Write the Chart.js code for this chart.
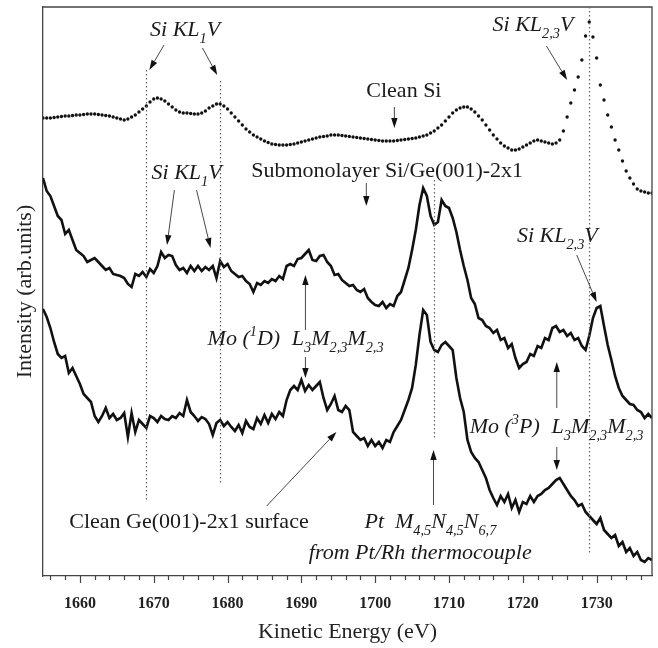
<!DOCTYPE html>
<html>
<head>
<meta charset="utf-8">
<script src="https://cdn.jsdelivr.net/npm/chart.js@4.4.1/dist/chart.umd.min.js"></script>
<style>
  html, body { margin: 0; padding: 0; background: #fff; }
  #wrap { width: 658px; height: 648px; }
</style>
</head>
<body>
<div id="wrap"><canvas id="auger" width="658" height="648"></canvas></div>
<script>
// Kinetic energy grid (eV), one row per 5 eV
var energy = [
  1655, 1655.5, 1656, 1656.5, 1657, 1657.5, 1658, 1658.5, 1659, 1659.5,
  1660, 1660.5, 1661, 1661.5, 1662, 1662.5, 1663, 1663.5, 1664, 1664.5,
  1665, 1665.5, 1666, 1666.5, 1667, 1667.5, 1668, 1668.5, 1669, 1669.5,
  1670, 1670.5, 1671, 1671.5, 1672, 1672.5, 1673, 1673.5, 1674, 1674.5,
  1675, 1675.5, 1676, 1676.5, 1677, 1677.5, 1678, 1678.5, 1679, 1679.5,
  1680, 1680.5, 1681, 1681.5, 1682, 1682.5, 1683, 1683.5, 1684, 1684.5,
  1685, 1685.5, 1686, 1686.5, 1687, 1687.5, 1688, 1688.5, 1689, 1689.5,
  1690, 1690.5, 1691, 1691.5, 1692, 1692.5, 1693, 1693.5, 1694, 1694.5,
  1695, 1695.5, 1696, 1696.5, 1697, 1697.5, 1698, 1698.5, 1699, 1699.5,
  1700, 1700.5, 1701, 1701.5, 1702, 1702.5, 1703, 1703.5, 1704, 1704.5,
  1705, 1705.5, 1706, 1706.5, 1707, 1707.5, 1708, 1708.5, 1709, 1709.5,
  1710, 1710.5, 1711, 1711.5, 1712, 1712.5, 1713, 1713.5, 1714, 1714.5,
  1715, 1715.5, 1716, 1716.5, 1717, 1717.5, 1718, 1718.5, 1719, 1719.5,
  1720, 1720.5, 1721, 1721.5, 1722, 1722.5, 1723, 1723.5, 1724, 1724.5,
  1725, 1725.5, 1726, 1726.5, 1727, 1727.5, 1728, 1728.5, 1729, 1729.5,
  1730, 1730.5, 1731, 1731.5, 1732, 1732.5, 1733, 1733.5, 1734, 1734.5,
  1735, 1735.5, 1736, 1736.5, 1737, 1737.5
];

// Clean Si (dotted spectrum)
var cleanSi = [
  458, 458, 458, 458.5, 459, 459.5, 460, 460, 460.5, 461,
  461, 461.5, 462, 462, 462, 461.5, 461, 460.5, 460, 459,
  458, 457, 456, 457, 459, 461, 464, 467, 470, 474,
  477, 478, 477, 475, 472, 469, 466, 464, 463, 463,
  462.5, 462, 462, 463, 465, 468, 470, 472, 472, 470,
  467, 463, 459, 455, 451, 447, 444, 441, 439, 437,
  435, 433.5, 432, 431.5, 431, 431, 431, 431.5, 432, 433,
  434, 435, 436, 437, 438, 439, 439.5, 440, 441, 441,
  441, 440.5, 440, 439.5, 439, 438.5, 438, 437.5, 437, 436.5,
  436, 435.5, 435, 435, 435, 435, 435.5, 436, 436.5, 437,
  437.5, 438, 439, 440, 441, 443, 445, 448, 451, 455,
  459, 463, 466, 468, 469, 469, 467, 464, 460, 456,
  451, 446, 441, 437, 433, 430, 428, 426, 426, 427,
  429, 431, 433, 435, 436, 435, 434, 433, 432, 433,
  436, 445, 459, 473, 486, 499, 516, 540, 554, 539,
  518, 491, 476, 461, 449, 436, 426, 415, 405, 398,
  392, 387, 385, 384, 383, 383
];

// Submonolayer Si/Ge(001)-2x1
var subSiGe = [
  398, 385, 380, 370, 360, 356, 342, 346, 336, 326,
  323, 320, 314, 316, 318, 314, 310, 306, 308, 302,
  301, 300, 298, 292, 289, 302, 300, 304, 299, 307,
  303, 310, 324, 318, 321, 320, 311, 306, 308, 303,
  310, 305, 310, 305, 309, 306, 310, 298, 315, 309,
  312, 305, 302, 299, 300, 295, 292, 284, 293, 291,
  295, 293, 297, 295, 300, 297, 310, 312, 310, 317,
  318, 322, 326, 316, 315, 320, 321, 314, 310, 301,
  302, 296, 293, 290, 291, 286, 284, 287, 278, 274,
  271, 270, 274, 268, 272, 270, 280, 284, 296, 308,
  326, 346, 371, 388, 380, 360, 351, 354, 376, 370,
  368, 358, 344, 326, 310, 296, 278, 272, 258, 256,
  250, 248, 243, 246, 236, 238, 228, 232, 218, 208,
  212, 214, 222, 220, 230, 228, 238, 236, 248, 250,
  244, 246, 240, 243, 236, 238, 230, 226, 240, 258,
  268, 270, 250, 231, 216, 200, 188, 180, 176, 172,
  171, 166, 164, 158, 162, 158
];

// Clean Ge(001)-2x1 surface
var cleanGe = [
  267, 259, 248, 234, 222, 218, 220, 203, 208, 200,
  192, 182, 178, 174, 160, 154, 160, 168, 158, 162,
  156, 158, 163, 139, 163, 144, 156, 152, 148, 160,
  158, 154, 160, 157, 156, 160, 158, 163, 160, 176,
  164, 160, 155, 159, 157, 152, 141, 153, 156, 150,
  154, 149, 145, 151, 143, 155, 149, 147, 158, 152,
  161, 153, 162, 157, 164, 160, 176, 186, 190, 186,
  196, 185, 191, 186, 190, 194, 178, 166, 172, 180,
  166, 164, 170, 166, 144, 140, 136, 138, 130, 136,
  130, 134, 128, 136, 134, 144, 150, 156, 166, 176,
  188, 211, 241, 266, 261, 234, 226, 224, 231, 234,
  230, 226, 198, 178, 164, 136, 124, 118, 114, 106,
  98, 86, 78, 71, 80, 74, 82, 68, 76, 64,
  74, 72, 80, 74, 80, 82, 86, 88, 92, 96,
  98, 92, 86, 80, 76, 70, 72, 64, 60, 56,
  52, 58, 46, 42, 38, 41, 30, 34, 24, 28,
  20, 24, 16, 14, 18, 16
];

var xMin = 1655, xMax = 1737.5;
var yMin = 0, yMax = 569;
var tickLabels = [1660, 1670, 1680, 1690, 1700, 1710, 1720, 1730];

// reference lines [energy, from, to]
var markerLines = [
  [1669, 506, 75],
  [1679, 495, 91],
  [1708, 396, 136],
  [1729, 569, 23]
];

// labels: segments [text, 0 normal / -1 sub / 1 sup], x, y, italic, align
var labels = [
  { segs: [['Si KL', 0], ['1', -1], ['V', 0]], x: 1669.5, y: 540, it: true },
  { segs: [['Si KL', 0], ['2,3', -1], ['V', 0]], x: 1715.9, y: 545, it: true },
  { segs: [['Clean Si', 0]], x: 1698.8, y: 479, it: false },
  { segs: [['Si KL', 0], ['1', -1], ['V', 0]], x: 1669.7, y: 397, it: true },
  { segs: [['Submonolayer Si/Ge(001)-2x1', 0]], x: 1683.2, y: 399, it: false },
  { segs: [['Mo (', 0], ['1', 1], ['D)', 0]], x: 1677.3, y: 231, it: true },
  { segs: [['L', 0], ['3', -1], ['M', 0], ['2,3', -1], ['M', 0], ['2,3', -1]], x: 1688.7, y: 231, it: true },
  { segs: [['Mo (', 0], ['3', 1], ['P)', 0]], x: 1712.8, y: 143, it: true },
  { segs: [['L', 0], ['3', -1], ['M', 0], ['2,3', -1], ['M', 0], ['2,3', -1]], x: 1723.9, y: 143, it: true },
  { segs: [['Si KL', 0], ['2,3', -1], ['V', 0]], x: 1719.2, y: 334, it: true },
  { segs: [['Clean Ge(001)-2x1 surface', 0]], x: 1658.55, y: 48, it: false },
  { segs: [['Pt  M', 0], ['4,5', -1], ['N', 0], ['4,5', -1], ['N', 0], ['6,7', -1]], x: 1698.55, y: 48, it: true },
  { segs: [['from Pt/Rh thermocouple', 0]], x: 1721.2, y: 17, it: true, align: 'right' }
];

// arrows [x0, y0, x1, y1] head at the second point
var arrows = [
  [1671.4, 531, 1669.4, 506],
  [1676.6, 528, 1678.6, 501],
  [1723.2, 530, 1726.0, 496],
  [1702.6, 469, 1702.6, 448],
  [1672.8, 386, 1671.8, 331],
  [1675.8, 386, 1677.7, 328],
  [1698.8, 393, 1698.8, 370],
  [1690.55, 246, 1690.55, 301],
  [1690.55, 219, 1690.55, 198],
  [1724.6, 168, 1724.6, 214],
  [1724.6, 129, 1724.6, 106],
  [1727.3, 321, 1730.0, 274],
  [1685.3, 70, 1694.75, 144],
  [1707.9, 71, 1707.9, 126]
];

var SERIF = '"Liberation Serif", "Times New Roman", serif';

function pts(vals) {
  return energy.map(function(e, i) { return { x: e, y: vals[i] }; });
}

function drawRich(ctx, item, px, py) {
  var size = 22;
  var style = item.it ? 'italic ' : '';
  var total = 0;
  item.segs.forEach(function(s) {
    ctx.font = style + (s[1] ? size * 0.65 : size) + 'px ' + SERIF;
    total += ctx.measureText(s[0]).width;
  });
  var x = item.align === 'right' ? px - total : px;
  item.segs.forEach(function(s) {
    ctx.font = style + (s[1] ? size * 0.65 : size) + 'px ' + SERIF;
    var dy = s[1] === -1 ? size * 0.3 : s[1] === 1 ? -size * 0.42 : 0;
    ctx.fillText(s[0], x, py + dy);
    x += ctx.measureText(s[0]).width;
  });
}

var decor = {
  id: 'decor',
  afterDraw: function(chart) {
    var ctx = chart.ctx, xs = chart.scales.x, ys = chart.scales.y, a = chart.chartArea;
    ctx.save();
    // top and right frame
    ctx.strokeStyle = '#444';
    ctx.lineWidth = 1.3;
    ctx.beginPath();
    ctx.moveTo(a.left, a.top); ctx.lineTo(a.right, a.top); ctx.lineTo(a.right, a.bottom);
    ctx.stroke();
    // tick marks every 2 eV
    ctx.lineWidth = 1.2;
    for (var v = 1656; v <= xMax; v += 2) {
      var tx = Math.round(xs.getPixelForValue(v)) + 0.5;
      ctx.beginPath();
      ctx.moveTo(tx, a.bottom);
      ctx.lineTo(tx, a.bottom + (v % 10 === 0 ? 7 : 4));
      ctx.stroke();
    }
    // dotted reference lines
    ctx.strokeStyle = '#666';
    ctx.lineWidth = 1.2;
    ctx.setLineDash([1.5, 2.5]);
    markerLines.forEach(function(m) {
      var lx = Math.round(xs.getPixelForValue(m[0])) + 0.5;
      ctx.beginPath();
      ctx.moveTo(lx, ys.getPixelForValue(m[1]));
      ctx.lineTo(lx, ys.getPixelForValue(m[2]));
      ctx.stroke();
    });
    ctx.setLineDash([]);
    // arrows
    ctx.strokeStyle = '#333';
    ctx.fillStyle = '#111';
    ctx.lineWidth = 0.9;
    arrows.forEach(function(r) {
      var x0 = xs.getPixelForValue(r[0]), y0 = ys.getPixelForValue(r[1]);
      var x1 = xs.getPixelForValue(r[2]), y1 = ys.getPixelForValue(r[3]);
      var ang = Math.atan2(y1 - y0, x1 - x0), L = 10, W = 3.2;
      var bx = x1 - L * Math.cos(ang), by = y1 - L * Math.sin(ang);
      ctx.beginPath(); ctx.moveTo(x0, y0); ctx.lineTo(bx, by); ctx.stroke();
      ctx.beginPath();
      ctx.moveTo(x1, y1);
      ctx.lineTo(bx + W * Math.sin(ang), by - W * Math.cos(ang));
      ctx.lineTo(bx - W * Math.sin(ang), by + W * Math.cos(ang));
      ctx.closePath(); ctx.fill();
    });
    // labels
    ctx.fillStyle = '#1a1a1a';
    ctx.textBaseline = 'alphabetic';
    ctx.textAlign = 'left';
    labels.forEach(function(l) {
      drawRich(ctx, l, xs.getPixelForValue(l.x), ys.getPixelForValue(l.y));
    });
    ctx.restore();
  }
};

new Chart(document.getElementById('auger'), {
  type: 'scatter',
  data: {
    datasets: [
      { label: 'Clean Si', data: pts(cleanSi), showLine: false, pointRadius: 1.7,
        pointBorderWidth: 0, pointBackgroundColor: '#111' },
      { label: 'Submonolayer Si/Ge(001)-2x1', data: pts(subSiGe), showLine: true,
        borderColor: '#111', borderWidth: 2.6, pointRadius: 0, tension: 0 },
      { label: 'Clean Ge(001)-2x1 surface', data: pts(cleanGe), showLine: true,
        borderColor: '#111', borderWidth: 2.6, pointRadius: 0, tension: 0 }
    ]
  },
  options: {
    responsive: false,
    animation: false,
    layout: { padding: { top: 7, right: 6, left: 0, bottom: 0 } },
    plugins: { legend: { display: false }, tooltip: { enabled: false } },
    scales: {
      x: {
        type: 'linear', min: xMin, max: xMax,
        afterBuildTicks: function(s) { s.ticks = tickLabels.map(function(v) { return { value: v }; }); },
        ticks: { autoSkip: false, maxRotation: 0, padding: 11, color: '#222',
          callback: function(v) { return String(v); },
          font: { family: SERIF, size: 16, weight: 'bold' } },
        grid: { display: true, drawOnChartArea: false, tickLength: 7, tickColor: 'transparent' },
        border: { color: '#444', width: 1.3 },
        title: { display: true, text: 'Kinetic Energy (eV)', color: '#222',
          font: { family: SERIF, size: 22 }, padding: { top: 0, bottom: 3 } },
        afterFit: function(s) { s.height = 72; }
      },
      y: {
        min: yMin, max: yMax,
        ticks: { display: false },
        grid: { display: false },
        border: { color: '#444', width: 1.3 },
        title: { display: true, text: 'Intensity (arb.units)', color: '#222',
          font: { family: SERIF, size: 22 }, padding: { top: 12, bottom: 0 } },
        afterFit: function(s) { s.width = 43; }
      }
    }
  },
  plugins: [decor]
});
</script>
</body>
</html>
